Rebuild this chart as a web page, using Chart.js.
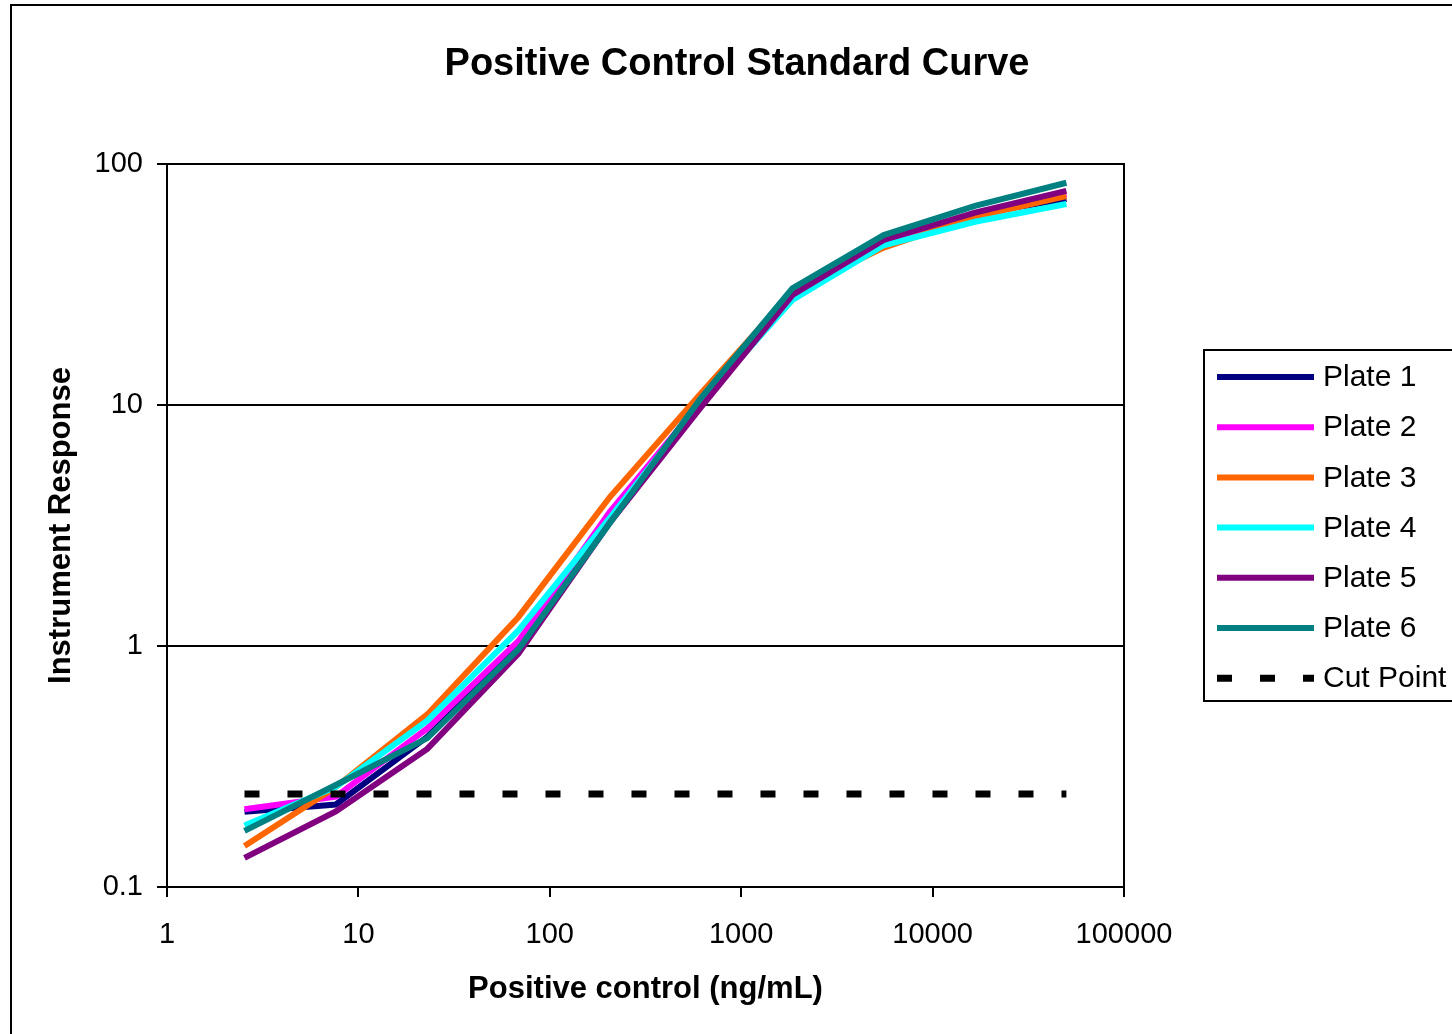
<!DOCTYPE html>
<html>
<head>
<meta charset="utf-8">
<title>Positive Control Standard Curve</title>
<script src="https://cdn.jsdelivr.net/npm/chart.js@4.4.1/dist/chart.umd.min.js"></script>
<style>
  html, body { margin: 0; padding: 0; background: #fff; }
  #wrap { width: 1452px; height: 1034px; }
</style>
</head>
<body>
<div id="wrap"><canvas id="curveChart" width="1452" height="1034"></canvas></div>
<script>
// dilution series of the positive control (ng/mL), 3-fold steps
var concentrations = [2.54, 7.62, 22.9, 68.6, 206, 617, 1852, 5556, 16667, 50000];

var plate1 = [0.205, 0.22, 0.42, 1.0, 3.4, 10.2, 28.5, 48, 62, 71.5];
var plate2 = [0.21, 0.237, 0.455, 1.05, 3.6, 10.3, 28.8, 48, 62, 75];
var plate3 = [0.148, 0.26, 0.52, 1.32, 4.15, 11.2, 29.5, 45, 60.4, 73.6];
var plate4 = [0.18, 0.26, 0.49, 1.16, 3.4, 10.3, 27.3, 46, 57.6, 68.2];
var plate5 = [0.132, 0.206, 0.374, 0.93, 3.25, 9.8, 28.6, 48.4, 62.8, 77.4];
var plate6 = [0.171, 0.265, 0.415, 0.97, 3.24, 10.7, 30.5, 50.7, 67, 83.6];
var cutPoint = [0.243, 0.243, 0.243, 0.243, 0.243, 0.243, 0.243, 0.243, 0.243, 0.243];

var plateNames = ['Plate 1', 'Plate 2', 'Plate 3', 'Plate 4', 'Plate 5', 'Plate 6'];
var plateColors = ['#000080', '#FF00FF', '#FF6600', '#00FFFF', '#800080', '#008080'];

var xTicks = [1, 10, 100, 1000, 10000, 100000];
var yTicks = [0.1, 1, 10, 100];

var FONT = '"Liberation Sans", Arial, sans-serif';

function toPoints(values) {
    return values.map(function (v, i) {
        return { x: concentrations[i], y: v };
    });
}

var plates = [plate1, plate2, plate3, plate4, plate5, plate6];
var datasets = plates.map(function (values, i) {
    return {
        label: plateNames[i],
        data: toPoints(values),
        borderColor: plateColors[i],
        backgroundColor: plateColors[i],
        borderWidth: 6,
        pointRadius: 0,
        tension: 0,
        order: 6 - i
    };
});
datasets.push({
    label: 'Cut Point',
    data: toPoints(cutPoint),
    borderColor: '#000000',
    backgroundColor: '#000000',
    borderWidth: 7,
    borderDash: [15, 28],
    borderCapStyle: 'butt',
    pointRadius: 0,
    order: 0
});

// title, plot frame, outer frame and legend box
var decorations = {
    id: 'decorations',
    afterDraw: function (chart) {
        var ctx = chart.ctx;
        var area = chart.chartArea;
        ctx.save();

        ctx.strokeStyle = '#000';
        ctx.lineWidth = 2;
        ctx.strokeRect(area.left, area.top, area.right - area.left, area.bottom - area.top);

        ctx.strokeRect(11, 5, 1600, 1200);

        ctx.fillStyle = '#000';
        ctx.font = 'bold 38px ' + FONT;
        ctx.textAlign = 'center';
        ctx.textBaseline = 'middle';
        ctx.fillText('Positive Control Standard Curve', 737, 65);

        ctx.fillStyle = '#fff';
        ctx.fillRect(1204, 350, 300, 351);
        ctx.strokeRect(1204, 350, 300, 351);

        ctx.font = '30px ' + FONT;
        ctx.textAlign = 'left';
        chart.data.datasets.forEach(function (ds, i) {
            var y = 377 + i * 50.2;
            ctx.beginPath();
            ctx.strokeStyle = ds.borderColor;
            ctx.lineWidth = ds.borderWidth;
            ctx.lineCap = 'butt';
            ctx.setLineDash(ds.borderDash || []);
            ctx.moveTo(1217, y);
            ctx.lineTo(1314, y);
            ctx.stroke();
            ctx.setLineDash([]);
            ctx.fillStyle = '#000';
            ctx.fillText(ds.label, 1323, y + 1);
        });
        ctx.restore();
    }
};

new Chart(document.getElementById('curveChart'), {
    type: 'line',
    data: { datasets: datasets },
    options: {
        responsive: false,
        animation: false,
        layout: { padding: { left: 0, right: 328, top: 164, bottom: 0 } },
        plugins: {
            legend: { display: false },
            title: { display: false },
            tooltip: { enabled: false }
        },
        scales: {
            x: {
                type: 'logarithmic',
                min: 1,
                max: 100000,
                afterBuildTicks: function (scale) {
                    scale.ticks = xTicks.map(function (v) { return { value: v }; });
                },
                afterFit: function (scale) { scale.height = 147; },
                ticks: {
                    color: '#000',
                    font: { family: FONT, size: 29 },
                    padding: 21,
                    maxRotation: 0,
                    autoSkip: false,
                    callback: function (value) { return String(value); }
                },
                grid: {
                    drawOnChartArea: false,
                    drawTicks: true,
                    tickLength: 10,
                    color: '#000',
                    lineWidth: 2
                },
                border: { display: true, color: '#000', width: 2 },
                title: {
                    display: true,
                    text: 'Positive control (ng/mL)',
                    color: '#000',
                    font: { family: FONT, size: 31, weight: 'bold' },
                    padding: { top: 0, bottom: 26 }
                }
            },
            y: {
                type: 'logarithmic',
                min: 0.1,
                max: 100,
                afterBuildTicks: function (scale) {
                    scale.ticks = yTicks.map(function (v) { return { value: v }; });
                },
                afterFit: function (scale) { scale.width = 167; },
                ticks: {
                    color: '#000',
                    font: { family: FONT, size: 29 },
                    padding: 14,
                    autoSkip: false,
                    callback: function (value) { return String(value); }
                },
                grid: {
                    drawOnChartArea: true,
                    drawTicks: true,
                    tickLength: 10,
                    color: '#000',
                    lineWidth: 2
                },
                border: { display: true, color: '#000', width: 2 },
                title: {
                    display: true,
                    text: 'Instrument Response',
                    color: '#000',
                    font: { family: FONT, size: 31, weight: 'bold' },
                    padding: { top: 43, bottom: 0 }
                }
            }
        }
    },
    plugins: [decorations]
});
</script>
</body>
</html>
